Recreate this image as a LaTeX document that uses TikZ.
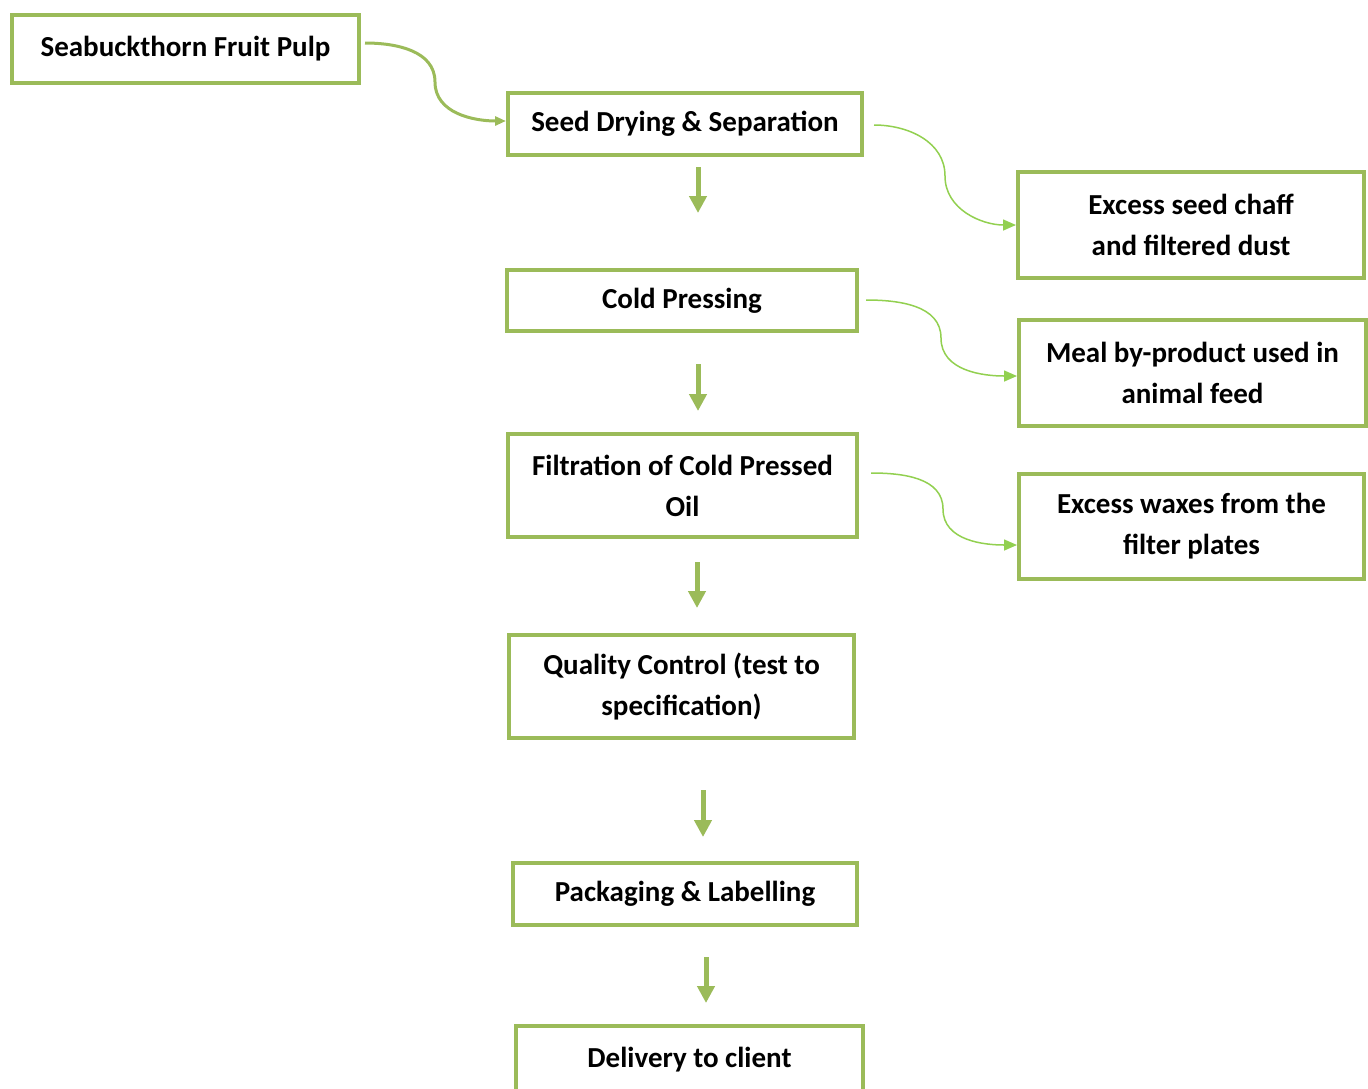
\documentclass[tikz,border=0pt]{standalone}
\usepackage{fontspec}
\setmainfont{Carlito}
\usetikzlibrary{arrows.meta}
\definecolor{boxgreen}{HTML}{9BBB59}
\definecolor{lightgreen}{HTML}{92D050}
\begin{document}
\begin{tikzpicture}[x=1pt,y=-1pt,
  box/.style={draw=boxgreen,line width=4pt,fill=white,align=center,inner sep=0pt,
    font=\fontsize{29}{41}\selectfont\bfseries},
  downarr/.style={draw=boxgreen,line width=5pt,-{Triangle[length=17pt,width=17pt]}},
  sidearr/.style={draw=lightgreen,line width=1.5pt,-{Triangle[length=13pt,width=11pt]}},
  firstarr/.style={draw=boxgreen,line width=3pt,-{Triangle[length=11pt,width=9pt]}}]
\useasboundingbox (0,0) rectangle (1368,1088);
\clip (0,0) rectangle (1368,1088);
\node[box,minimum width=347pt,minimum height=68pt] (sea) at (185.5,49) {Seabuckthorn Fruit Pulp};
\node[box,minimum width=354pt,minimum height=62pt] (seed) at (685,124) {Seed Drying \& Separation};
\node[box,minimum width=346pt,minimum height=106pt] (chaff) at (1191,225) {Excess seed chaff\\and filtered dust};
\node[box,minimum width=350pt,minimum height=61pt] (cold) at (682,300.5) {Cold Pressing};
\node[box,minimum width=347pt,minimum height=106pt] (meal) at (1192.5,373) {Meal by-product used in\\animal feed};
\node[box,minimum width=349pt,minimum height=103pt] (filt) at (682.5,485.5) {Filtration of Cold Pressed\\Oil};
\node[box,minimum width=345pt,minimum height=105pt] (wax) at (1191.5,526.5) {Excess waxes from the\\filter plates};
\node[box,minimum width=345pt,minimum height=103pt] (qc) at (681.5,686.5) {Quality Control (test to\\specification)};
\node[box,minimum width=344pt,minimum height=62pt] (pack) at (685,894) {Packaging \& Labelling};
\node[box,minimum width=347pt,minimum height=90pt,anchor=north,text height=21pt,text depth=28pt] (deliv) at (689.5,1024) {Delivery to client};
% down arrows
\coordinate (d1a) at (698,167); \coordinate (d1b) at (698,213);
\coordinate (d2a) at (698,364); \coordinate (d2b) at (698,411);
\coordinate (d3a) at (697,562); \coordinate (d3b) at (697,608);
\coordinate (d4a) at (703,790); \coordinate (d4b) at (703,837);
\coordinate (d5a) at (706,957); \coordinate (d5b) at (706,1003);
\draw[downarr] (d1a) -- (d1b);
\draw[downarr] (d2a) -- (d2b);
\draw[downarr] (d3a) -- (d3b);
\draw[downarr] (d4a) -- (d4b);
\draw[downarr] (d5a) -- (d5b);
% curved connectors
\coordinate (c1a) at (365,43); \coordinate (c1m) at (435,82);
\draw[firstarr] (c1a) to[out=0,in=90] (c1m) to[out=-90,in=180] (seed.west |- 0,121);
\coordinate (c2a) at (874,125); \coordinate (c2m) at (945,176);
\draw[sidearr] (c2a) to[out=0,in=90] (c2m) to[out=-90,in=180] (chaff.west);
\coordinate (c3a) at (866,300); \coordinate (c3m) at (941,338);
\draw[sidearr] (c3a) to[out=0,in=90] (c3m) to[out=-90,in=180] (meal.west |- 0,376);
\coordinate (c4a) at (871,473); \coordinate (c4m) at (943,509);
\draw[sidearr] (c4a) to[out=0,in=90] (c4m) to[out=-90,in=180] (wax.west |- 0,545);
\end{tikzpicture}
\end{document}
